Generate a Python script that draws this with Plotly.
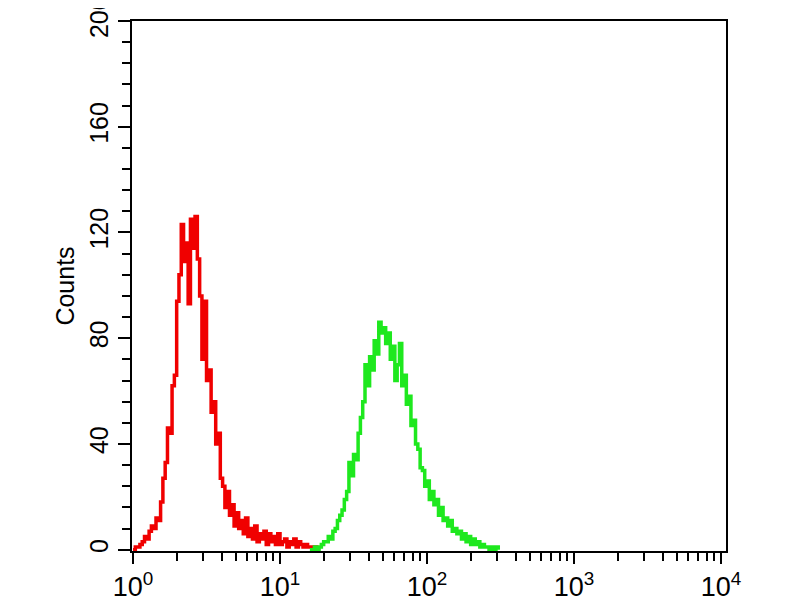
import numpy as np
import plotly.graph_objects as go

# Histogram channels: 64 channels per decade on a log scale
CHANNELS_PER_DECADE = 64
red_start_channel = 0
green_start_channel = 77

red_counts = [0, 1, 1, 2, 3, 5, 4, 7, 9, 8, 12, 11, 18, 27, 33, 46, 44, 62, 66, 94,
              104, 123, 109, 116, 93, 125, 114, 126, 110, 96, 72, 94, 64, 68, 52, 56, 40, 44, 27, 24,
              16, 22, 13, 17, 9, 14, 8, 11, 6, 12, 5, 8, 4, 9, 3, 6, 4, 7, 2, 6,
              3, 5, 2, 6, 2, 3, 4, 1, 3, 2, 4, 1, 3, 2, 1, 2, 1, 1, 0, 1,
              0, 0]

green_counts = [0, 0, 1, 0, 1, 2, 3, 3, 5, 4, 7, 8, 11, 13, 15, 19, 22, 33, 28, 36,
                34, 44, 50, 56, 70, 62, 73, 68, 79, 74, 86, 82, 84, 78, 82, 72, 77, 64, 70, 78,
                62, 66, 55, 58, 47, 49, 40, 38, 31, 30, 24, 26, 19, 22, 17, 19, 13, 16, 11, 12,
                9, 11, 7, 8, 6, 7, 4, 6, 3, 5, 2, 4, 2, 3, 1, 2, 1, 1, 0, 1,
                0, 1, 0]

x_tick_vals = [1, 10, 100, 1000, 10000]
x_tick_text = ["10<sup>0</sup>", "10<sup>1</sup>", "10<sup>2</sup>", "10<sup>3</sup>", "10<sup>4</sup>"]
y_tick_vals = [0, 40, 80, 120, 160, 200]
y_title = "Counts"

red_x = 10 ** ((red_start_channel + np.arange(len(red_counts))) / CHANNELS_PER_DECADE)
green_x = 10 ** ((green_start_channel + np.arange(len(green_counts))) / CHANNELS_PER_DECADE)

fig = go.Figure()
fig.add_trace(go.Scatter(x=red_x, y=red_counts, mode="lines",
                         line=dict(color="#f00000", width=3.5, shape="hv"), showlegend=False))
fig.add_trace(go.Scatter(x=green_x, y=green_counts, mode="lines",
                         line=dict(color="#1ee81e", width=3.5, shape="hv"), showlegend=False))

font_family = "Liberation Sans, Arial, sans-serif"

# page body has an 8px margin, so the figure is sized/placed to compensate
fig.update_layout(
    width=792, height=592,
    margin=dict(l=124, r=74, t=13, b=49, autoexpand=False),
    paper_bgcolor="white", plot_bgcolor="white",
    font=dict(family=font_family, color="black"),
)
fig.update_xaxes(
    type="log", range=[-0.007, 4.034], automargin=False,
    tickvals=x_tick_vals, ticktext=x_tick_text,
    ticks="outside", ticklen=11, tickwidth=2, tickcolor="black",
    tickfont=dict(size=27, family=font_family, color="black"),
    ticklabeloverflow="allow",
    showline=True, linecolor="black", linewidth=2, mirror=True,
    showgrid=False, zeroline=False,
    minor=dict(ticks="outside", ticklen=8, tickwidth=2, tickcolor="black", dtick="D1", showgrid=False),
)
fig.update_yaxes(
    range=[-0.5, 200], automargin=False,
    tickvals=y_tick_vals,
    ticks="outside", ticklen=12, tickwidth=2, tickcolor="black",
    tickangle=-90,
    tickfont=dict(size=25, family=font_family, color="black"),
    ticklabelstandoff=0,
    ticklabeloverflow="allow",
    showline=True, linecolor="black", linewidth=2, mirror=True,
    showgrid=False, zeroline=False,
    minor=dict(ticks="outside", ticklen=8, tickwidth=2, tickcolor="black", dtick=8, tick0=0, showgrid=False),
    title=dict(text=y_title, font=dict(size=25, family=font_family, color="black"), standoff=3),
)

fig.write_html("out.html")
